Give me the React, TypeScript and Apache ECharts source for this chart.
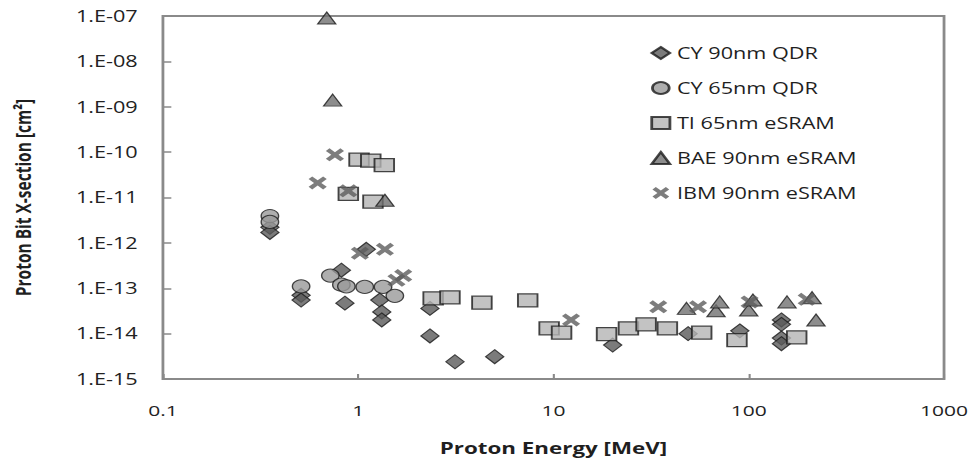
import React, { useEffect, useRef } from "react";
import * as echarts from "echarts";

// ---- data (Proton Energy [MeV], Proton Bit X-section [cm^2]) ----
const seriesNames = [
  "CY 90nm QDR",
  "CY 65nm QDR",
  "TI 65nm eSRAM",
  "BAE 90nm eSRAM",
  "IBM 90nm eSRAM",
];

const cy90nmQDR: [number, number][] = [
  [0.353, 2.2e-12], [0.353, 1.7e-12],
  [0.51, 7e-14], [0.51, 5.5e-14],
  [0.82, 2.5e-13], [0.855, 4.7e-14],
  [1.1, 7.2e-13], [1.29, 5.5e-14], [1.32, 3e-14], [1.32, 2e-14],
  [2.33, 3.6e-14], [2.33, 8.9e-15],
  [3.13, 2.4e-15], [5.0, 3.1e-15], [20.1, 5.6e-15],
  [48.9, 1.0e-14], [90, 1.15e-14],
  [147, 2e-14], [147, 1.6e-14], [147, 8e-15], [147, 6e-15],
];

const cy65nmQDR: [number, number][] = [
  [0.353, 3.9e-12], [0.353, 2.9e-12],
  [0.51, 1.1e-13], [0.72, 1.9e-13], [0.82, 1.2e-13], [0.87, 1.1e-13],
  [1.08, 1.07e-13], [1.34, 1.07e-13], [1.54, 6.8e-14],
];

const ti65nmESRAM: [number, number][] = [
  [1.01, 6.8e-11], [1.16, 6.5e-11], [1.36, 5.2e-11], [0.89, 1.2e-11], [1.19, 8.1e-12],
  [2.42, 6e-14], [2.95, 6.3e-14], [4.3, 4.8e-14], [7.38, 5.4e-14],
  [9.5, 1.3e-14], [11.0, 1.05e-14], [18.7, 9.8e-15], [24.2, 1.3e-14],
  [29.8, 1.6e-14], [38.3, 1.3e-14], [57.4, 1.05e-14], [87, 7.2e-15], [176, 8.3e-15],
];

const bae90nmESRAM: [number, number][] = [
  [0.69, 9e-8], [0.74, 1.4e-9], [1.37, 8.7e-12],
  [48, 3.6e-14], [68, 3.2e-14], [71, 5e-14], [100, 3.3e-14], [105, 5.5e-14],
  [157, 5e-14], [211, 6.2e-14], [221, 2.0e-14],
];

const ibm90nmESRAM: [number, number][] = [
  [0.76, 8.7e-11], [0.62, 2.1e-11], [0.89, 1.4e-11],
  [1.02, 5.9e-13], [1.37, 7.2e-13], [1.7, 1.9e-13], [1.57, 1.5e-13],
  [12.3, 2e-14], [34.4, 3.9e-14], [55, 3.9e-14], [101, 5e-14], [198, 5.7e-14],
];

const xTickValues = [0.1, 1, 10, 100, 1000];
const yExponents = [-15, -14, -13, -12, -11, -10, -9, -8, -7];

const X_PATH =
  "path://M0,2L2,0L5,3L8,0L10,2L7,5L10,8L8,10L5,7L2,10L0,8L3,5Z";

const INNER_W = 700;
const H = 460;
const STRETCH = 979 / INNER_W;
const FONT = "'Open Sans', 'Liberation Sans', sans-serif";

export default function App() {
  const ref = useRef<HTMLDivElement>(null);

  useEffect(() => {
    if (!ref.current) return;
    const chart = echarts.init(ref.current, undefined, { renderer: "svg" });
    const border = "#1a1a1a";
    const option: any = {
      animation: false,
      backgroundColor: "#ffffff",
      textStyle: { fontFamily: FONT },
      grid: {
        left: 116.5,
        right: 25,
        top: 16,
        bottom: 81,
        containLabel: false,
        outerBoundsMode: "none",
        show: true,
        borderColor: "#8a8a8a",
        borderWidth: 2,
        backgroundColor: "transparent",
      },
      legend: {
        orient: "vertical",
        left: 460,
        top: 40,
        itemWidth: 13,
        itemHeight: 12,
        itemGap: 19,
        data: seriesNames,
        textStyle: { fontSize: 15.5, color: "#1f1f1f", fontFamily: FONT },
      },
      xAxis: {
        type: "log",
        logBase: 10,
        min: xTickValues[0],
        max: xTickValues[xTickValues.length - 1],
        name: "Proton Energy [MeV]",
        nameLocation: "middle",
        nameGap: 61,
        nameTextStyle: { fontSize: 16, fontWeight: "bold", color: "#1f1f1f", fontFamily: FONT },
        axisLine: { show: false },
        axisTick: { show: true, inside: true, length: 5, lineStyle: { color: "#8a8a8a", width: 1.5 } },
        axisLabel: {
          margin: 24,
          fontSize: 15,
          color: "#222",
          fontFamily: FONT,
          formatter: (v: number) => (v < 1 ? v.toFixed(1) : String(Math.round(v))),
        },
        splitLine: { show: false },
      },
      yAxis: {
        type: "log",
        logBase: 10,
        min: Math.pow(10, yExponents[0]),
        max: Math.pow(10, yExponents[yExponents.length - 1]),
        name: "Proton Bit X-section [cm²]",
        nameLocation: "middle",
        nameRotate: 90,
        nameGap: 92,
        nameTextStyle: { fontSize: 15.5, fontWeight: "bold", color: "#1f1f1f", fontFamily: FONT },
        axisLine: { show: false },
        axisTick: { show: true, inside: true, length: 6, lineStyle: { color: "#8a8a8a", width: 1.5 } },
        axisLabel: {
          margin: 18,
          fontSize: 15.5,
          color: "#222",
          fontFamily: FONT,
          formatter: (v: number) => {
            const e = Math.round(Math.log10(v));
            return "1.E" + (e < 0 ? "-" : "+") + String(Math.abs(e)).padStart(2, "0");
          },
        },
        splitLine: { show: false },
      },
      series: [
        {
          name: seriesNames[0],
          type: "scatter",
          symbol: "diamond",
          symbolSize: [13, 14],
          itemStyle: { color: "#5a5a5a", borderColor: border, borderWidth: 1 },
          data: cy90nmQDR,
        },
        {
          name: seriesNames[1],
          type: "scatter",
          symbol: "circle",
          symbolSize: [12.5, 13],
          itemStyle: { color: "#9a9a9a", borderColor: border, borderWidth: 1 },
          data: cy65nmQDR,
        },
        {
          name: seriesNames[2],
          type: "scatter",
          symbol: "rect",
          symbolSize: [14, 13],
          itemStyle: { color: "#b4b4b4", borderColor: border, borderWidth: 1.3 },
          data: ti65nmESRAM,
        },
        {
          name: seriesNames[3],
          type: "scatter",
          symbol: "triangle",
          symbolSize: [13, 12],
          itemStyle: { color: "#707070", borderColor: border, borderWidth: 1 },
          data: bae90nmESRAM,
        },
        {
          name: seriesNames[4],
          type: "scatter",
          symbol: X_PATH,
          symbolSize: [13, 13],
          itemStyle: { color: "#5c5c5c", borderWidth: 0 },
          data: ibm90nmESRAM,
        },
      ],
    };
    chart.setOption(option);
    return () => chart.dispose();
  }, []);

  return (
    <div
      ref={ref}
      style={{
        position: "absolute",
        left: 0,
        top: 0,
        width: INNER_W,
        height: H,
        transform: `scaleX(${STRETCH})`,
        transformOrigin: "0 0",
        background: "#fff",
      }}
    />
  );
}
